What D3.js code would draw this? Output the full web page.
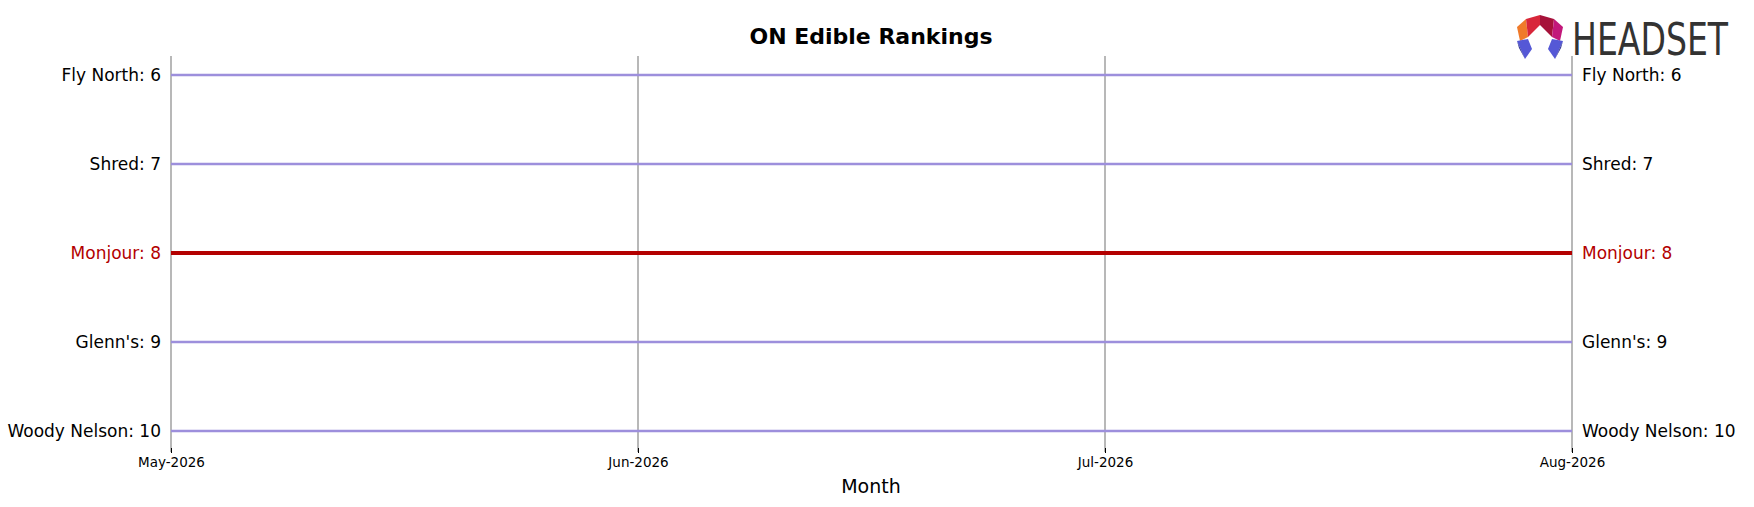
<!DOCTYPE html>
<html><head><meta charset="utf-8">
<script src="https://cdn.jsdelivr.net/npm/d3@7"></script>
<style>body{margin:0;background:#fff}svg{font-family:"DejaVu Sans",sans-serif}</style>
</head><body><svg id="svg" width="1754" height="507"></svg>
<script>
let width = 1754, height = 507;
let months = ["May-2026", "Jun-2026", "Jul-2026", "Aug-2026"];
let brands = ["Fly North", "Shred", "Monjour", "Glenn's", "Woody Nelson"];
let ranks = [
    [6, 6, 6, 6],
    [7, 7, 7, 7],
    [8, 8, 8, 8],
    [9, 9, 9, 9],
    [10, 10, 10, 10]
];
let highlight = "Monjour";

let svg = d3.select("#svg");
let x = d3.scalePoint().domain(months).range([171, 1572]);
let y = d3.scaleLinear().domain([6, 10]).range([75, 431]);

// vertical grid
svg.selectAll(".grid").data(months).enter().append("line")
    .attr("x1", d => x(d)).attr("x2", d => x(d))
    .attr("y1", 56).attr("y2", 452)
    .style("stroke", "#b8b8b8").style("stroke-width", 2);

let line = d3.line().x((d, i) => x(months[i])).y(d => y(d));
brands.forEach((b, k) => {
    let hi = b == highlight;
    svg.append("path").datum(ranks[k]).attr("d", line)
        .style("fill", "none")
        .style("stroke", hi ? "#b30000" : "#9d8fdc")
        .style("stroke-width", hi ? 4 : 2.5);
    let last = ranks[k][ranks[k].length - 1];
    svg.append("text").attr("x", x(months[0]) - 10).attr("y", y(ranks[k][0]))
        .attr("dy", "0.35em").attr("text-anchor", "end").attr("font-size", 17)
        .attr("fill", hi ? "#b30000" : "#000").text(`${b}: ${ranks[k][0]}`);
    svg.append("text").attr("x", x(months[3]) + 10).attr("y", y(last))
        .attr("dy", "0.35em").attr("font-size", 17)
        .attr("fill", hi ? "#b30000" : "#000").text(`${b}: ${last}`);
});

let xAxis = d3.axisBottom(x).tickSize(5).tickPadding(4);
let ax = svg.append("g").attr("transform", "translate(0,448)").call(xAxis);
ax.select(".domain").remove();
ax.selectAll("text").attr("font-size", 13.5).attr("fill", "#000")
    .attr("font-family", "DejaVu Sans");

svg.append("text").attr("x", 871).attr("y", 493).attr("text-anchor", "middle")
    .attr("font-size", 19).text("Month");
svg.append("text").attr("x", 871).attr("y", 44).attr("text-anchor", "middle")
    .attr("font-size", 22).attr("font-weight", "bold").text("ON Edible Rankings");

// logo
let logo = svg.append("g").attr("transform", "translate(1517,15)");
let polys = [
    ["#f07a2a", "0,12 9,4 11,22 3,26"],
    ["#d8263a", "9,4 23,0 23,10 11,22"],
    ["#a6123a", "23,0 37,4 35,22 23,10"],
    ["#c2187a", "37,4 46,12 43,26 35,22"],
    ["#5558d6", "0,26 11,24 15,34 8,44"],
    ["#2b2f8f", "0,26 8,44 2,33"],
    ["#5558d6", "35,24 46,26 38,44 31,34"],
    ["#2b2f8f", "46,26 44,33 38,44"]
];
polys.forEach(p => logo.append("polygon").attr("points", p[1]).style("fill", p[0]));
svg.append("text").attr("x", 1572).attr("y", 55).attr("font-size", 44)
    .attr("font-family", "DejaVu Sans Condensed").attr("textLength", 156)
    .attr("lengthAdjust", "spacingAndGlyphs").attr("fill", "#333").text("HEADSET");
</script></body></html>
